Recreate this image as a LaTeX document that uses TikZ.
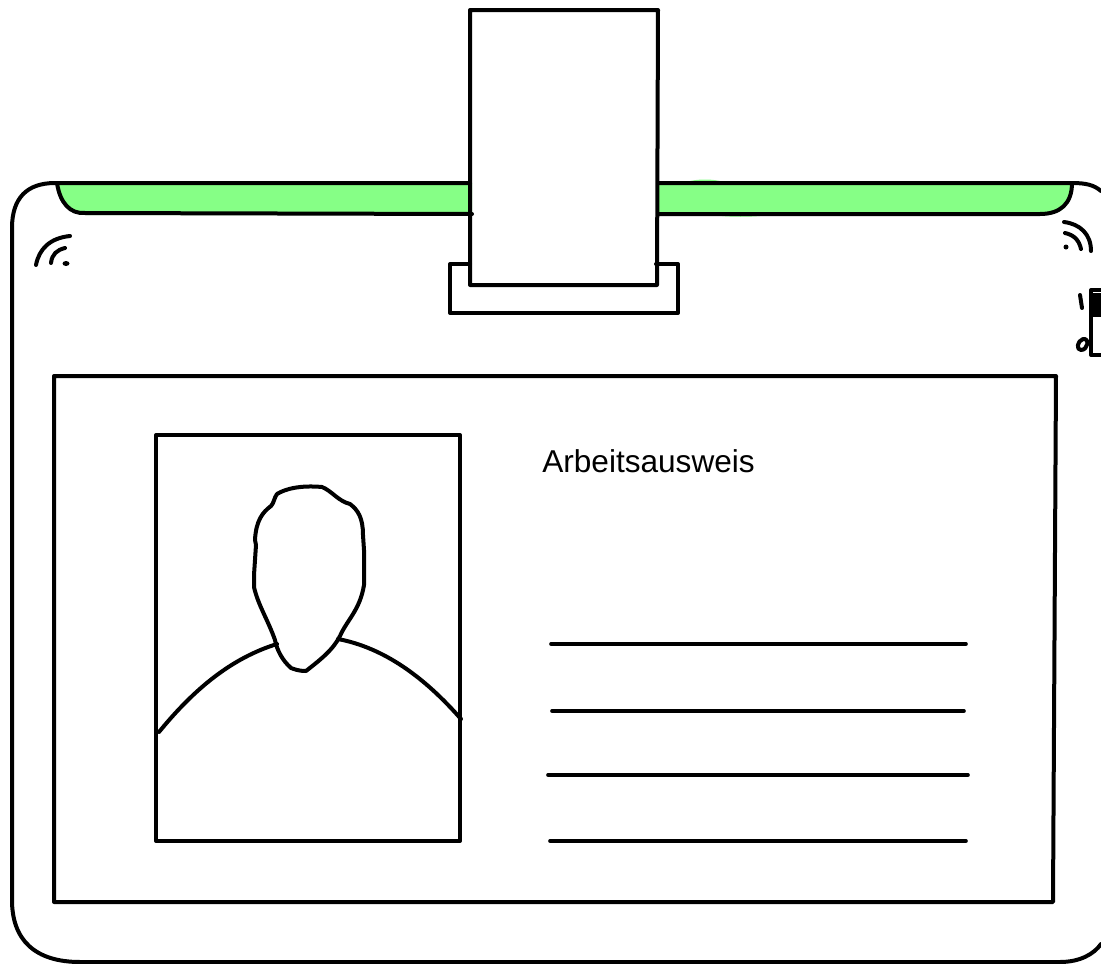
\documentclass[tikz,border=0pt]{standalone}
\usepackage{fontspec}
\setmainfont{Liberation Sans}
\definecolor{bandgreen}{HTML}{86FF86}
\tikzset{
  ink/.style={line width=3pt, line cap=round, line join=round},
  thinink/.style={line width=2.7pt, line cap=round, line join=round},
  band/.style={fill=bandgreen, draw=none}
}

\begin{document}
\begin{tikzpicture}[x=0.75pt,y=-0.75pt]
	\useasboundingbox (0,0) rectangle (1101,964);
	\clip (0,0) rectangle (1101,964);
	
	% Gruene Streifen
	\fill[band] (56,183) .. controls (59,203) and (68,216) .. (90,215) -- (472,215) -- (472,183) -- cycle;
	\fill[band] (656,183) -- (1073,183) .. controls (1073,205) and (1062,216) .. (1040,215) -- (656,215) -- cycle;
	\fill[band] (680,184) .. controls (695,178) and (715,178) .. (730,184) -- cycle;
	\fill[band] (700,213) .. controls (725,218) and (755,218) .. (785,213) -- cycle;
	
	% Karte
	\draw[ink] (1101,191) .. controls (1094,185) and (1086,183) .. (1072,183) -- (658,183);
	\draw[ink] (470,183) -- (55,183)
		.. controls (27,183) and (12,198) .. (12,228) -- (12,900)
		.. controls (12,940) and (35,962) .. (80,962) -- (1060,962)
		.. controls (1080,962) and (1094,954) .. (1101,944);
	\draw[ink] (57,183) .. controls (60,203) and (70,214) .. (85,213) -- (472,214);
	\draw[ink] (658,214) -- (1040,214) .. controls (1060,214) and (1072,204) .. (1072,183);
	
	% Clip oben
	\draw[ink] (470,264) -- (450,264) -- (450,313) -- (678,313) -- (678,264) -- (656,264);
	\draw[ink] (470,10) -- (658,10) -- (657,285) -- (470,285) -- cycle;
	
	% Funkzeichen links
	\draw[ink] (36,265) .. controls (39,249) and (50,238) .. (70,236);
	\draw[ink] (51,263) .. controls (52,254) and (57,250) .. (65,248);
	\fill (66,263.5) ellipse (3.5 and 2.5);
	% Funkzeichen rechts
	\draw[ink] (1064,222) .. controls (1080,224) and (1091,234) .. (1091,251);
	\draw[ink] (1065,233) .. controls (1074,235) and (1079,240) .. (1081,249);
	\fill (1066,247) circle (2.5);
	
	% Schloss rechts
	\draw[ink] (1080,295) -- (1082,308);
	\draw[ink] (1101,290) -- (1091,290) -- (1091,355) -- (1101,355);
	\fill (1092,293) rectangle (1101,317);
	\draw[ink] (1083,339) .. controls (1090,338) and (1088,350) .. (1081,350) .. controls (1076,350) and (1077,341) .. (1083,339);
	
	% Innenflaeche
	\draw[ink] (54,376) -- (1056,376) -- (1053,902) -- (54,902) -- cycle;
	
	% Foto
	\draw[ink] (156,435) rectangle (460,841);
	\draw[ink] (159,732) .. controls (195,688) and (232,658) .. (277,644);
	\draw[ink] (338,639) .. controls (385,648) and (425,678) .. (461,719);
	\draw[ink] (277,494) .. controls (285,489) and (300,485) .. (322,487)
		.. controls (332,491) and (338,501) .. (350,504)
		.. controls (358,510) and (363,518) .. (363,535)
		-- (364,550) -- (364,585)
		.. controls (360,610) and (347,620) .. (340,636)
		.. controls (333,650) and (320,660) .. (306,671)
		.. controls (298,671) and (294,669) .. (291,668)
		.. controls (282,660) and (277,650) .. (275,640)
		.. controls (268,620) and (258,605) .. (254,587)
		-- (254,575) -- (256,545) -- (255,540)
		.. controls (256,520) and (263,512) .. (271,506)
		.. controls (274,503) and (274,498) .. (277,494) -- cycle;
	
	% Text und Zeilen
	\node[anchor=west,inner sep=0pt,font=\fontsize{23.7pt}{28pt}\selectfont] (title) at (542,461) {Arbeitsausweis};
	\draw[thinink] (551,644) -- (966,644);
	\draw[thinink] (552,711) -- (964,711);
	\draw[thinink] (548,775) -- (968,775);
	\draw[thinink] (550,841) -- (966,841);
\end{tikzpicture}
\end{document}
